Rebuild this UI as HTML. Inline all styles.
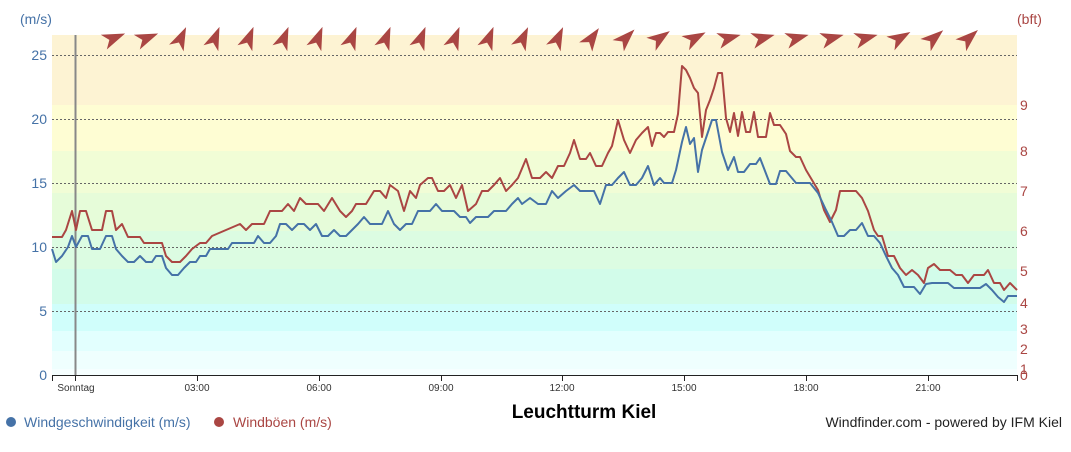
<!DOCTYPE html>
<html><head><meta charset="utf-8"><style>
body{margin:0;background:#fff;font-family:"Liberation Sans",sans-serif}
</style></head><body>
<svg width="1071" height="447" viewBox="0 0 1071 447" xmlns="http://www.w3.org/2000/svg" font-family="Liberation Sans, sans-serif">
<!-- bands -->
<rect x="52" y="35" width="965" height="70" fill="#fdf3d3"/>
<rect x="52" y="105" width="965" height="46" fill="#fefdd3"/>
<rect x="52" y="151" width="965" height="42" fill="#f1fdd6"/>
<rect x="52" y="193" width="965" height="38" fill="#e6fcd9"/>
<rect x="52" y="231" width="965" height="38" fill="#dcfce2"/>
<rect x="52" y="269" width="965" height="35" fill="#d2fcea"/>
<rect x="52" y="304" width="965" height="27" fill="#d0fefb"/>
<rect x="52" y="331" width="965" height="20" fill="#e2fffe"/>
<rect x="52" y="351" width="965" height="18" fill="#effffe"/>
<rect x="52" y="369" width="965" height="6" fill="#f6ffff"/>
<!-- grid -->
<g stroke="#666" stroke-dasharray="2,2" stroke-width="1">
<line x1="52" x2="1017" y1="55.5" y2="55.5"/><line x1="52" x2="1017" y1="119.5" y2="119.5"/>
<line x1="52" x2="1017" y1="183.5" y2="183.5"/><line x1="52" x2="1017" y1="247.5" y2="247.5"/>
<line x1="52" x2="1017" y1="311.5" y2="311.5"/>
</g>
<line x1="75.5" x2="75.5" y1="35" y2="375" stroke="#888" stroke-width="2"/>
<!-- axis -->
<line x1="52" x2="1018" y1="375.5" y2="375.5" stroke="#222"/>
<g stroke="#222"><line x1="52.5" x2="52.5" y1="375" y2="381"/><line x1="75.5" x2="75.5" y1="375" y2="381"/><line x1="197.5" x2="197.5" y1="375" y2="381"/><line x1="319.5" x2="319.5" y1="375" y2="381"/><line x1="441.5" x2="441.5" y1="375" y2="381"/><line x1="562.5" x2="562.5" y1="375" y2="381"/><line x1="684.5" x2="684.5" y1="375" y2="381"/><line x1="806.5" x2="806.5" y1="375" y2="381"/><line x1="928.5" x2="928.5" y1="375" y2="381"/><line x1="1017.5" x2="1017.5" y1="375" y2="381"/></g>
<g font-size="10" fill="#333" text-anchor="middle">
<text x="76" y="391">Sonntag</text><text x="197" y="391">03:00</text><text x="319" y="391">06:00</text><text x="441" y="391">09:00</text><text x="562" y="391">12:00</text><text x="684" y="391">15:00</text><text x="806" y="391">18:00</text><text x="928" y="391">21:00</text>
</g>
<g font-size="14" fill="#4572a7" text-anchor="end">
<text x="47" y="380">0</text><text x="47" y="316">5</text><text x="47" y="252">10</text><text x="47" y="188">15</text><text x="47" y="124">20</text><text x="47" y="60">25</text>
</g>
<text x="20" y="24" font-size="14" fill="#4572a7">(m/s)</text>
<text x="1017" y="24" font-size="14" fill="#aa4643">(bft)</text>
<g font-size="14" fill="#aa4643">
<text x="1020" y="380">0</text><text x="1020" y="374">1</text><text x="1020" y="354">2</text><text x="1020" y="334">3</text><text x="1020" y="308">4</text><text x="1020" y="276">5</text><text x="1020" y="236">6</text><text x="1020" y="196">7</text><text x="1020" y="156">8</text><text x="1020" y="110">9</text>
</g>
<!-- series -->
<polyline fill="none" stroke="#aa4643" stroke-width="2" stroke-linejoin="round" points="52,237 62,237 66,230 72,211 76,230 80,211 86,211 92,230 102,230 106,211 112,211 116,230 122,224 128,237 140,237 144,243 162,243 166,256 172,262 180,262 186,256 192,249 200,243 206,243 212,236 226,230 240,224 246,230 252,224 264,224 270,211 282,211 288,204 294,211 300,198 306,204 318,204 324,211 332,198 340,211 346,217 352,211 356,204 366,204 374,191 380,191 386,198 390,185 398,191 404,211 410,191 416,198 420,185 428,178 432,178 438,191 444,191 450,185 456,198 462,185 468,211 476,204 482,191 488,191 494,185 500,178 506,191 512,185 518,178 526,159 532,178 540,178 546,172 552,178 558,166 564,166 570,153 574,140 580,159 586,159 590,153 596,166 602,166 608,153 612,146 618,120 624,140 630,153 636,140 642,133 648,127 652,146 656,133 660,133 664,137 668,132 674,132 678,114 682,66 686,70 690,78 694,88 698,93 702,137 706,110 710,100 714,88 718,73 722,73 726,118 730,132 734,113 738,136 742,112 746,132 750,132 754,112 758,137 766,137 770,113 774,125 780,125 786,134 790,151 796,157 800,157 806,170 812,180 818,190 824,210 830,222 836,210 840,191 848,191 856,191 862,198 868,211 874,230 878,236 882,236 888,256 894,256 900,268 906,275 912,270 918,275 924,283 928,268 934,264 940,270 950,270 956,275 962,275 968,283 974,275 984,275 988,270 994,283 1000,283 1004,290 1010,283 1017,290"/>
<polyline fill="none" stroke="#4572a7" stroke-width="2" stroke-linejoin="round" points="52,249 56,262 62,256 68,247 72,236 76,247 82,236 88,236 92,249 100,249 106,236 112,236 116,249 122,256 128,262 134,262 140,256 146,262 152,262 156,256 162,256 166,268 172,275 178,275 184,268 190,262 196,262 200,256 206,256 210,249 228,249 232,243 254,243 258,236 264,243 270,243 276,236 280,224 286,224 292,230 298,224 304,224 310,230 316,224 322,236 328,236 334,230 340,236 346,236 352,230 358,224 364,217 370,224 382,224 388,211 394,224 400,230 406,224 412,224 418,211 430,211 436,204 442,211 454,211 460,217 466,217 470,223 476,217 488,217 494,211 506,211 512,204 518,198 522,204 530,198 538,204 546,204 552,191 558,198 566,191 574,185 580,191 594,191 600,204 606,185 612,185 618,178 624,172 630,185 636,185 642,178 648,166 654,185 660,178 664,183 672,183 676,170 682,142 686,127 690,144 694,138 698,172 702,150 706,138 712,120 716,120 722,152 728,170 734,157 738,172 744,172 750,164 756,164 760,158 770,184 776,184 780,171 786,171 796,183 810,183 818,193 826,210 832,222 838,236 844,236 850,230 856,230 862,223 868,236 874,236 880,243 886,256 892,268 898,275 904,287 914,287 920,294 926,284 932,283 948,283 954,288 980,288 986,284 992,290 998,297 1004,302 1008,296 1017,296"/>
<!-- arrows -->
<defs><polygon id="ar" points="0,-12 8,11 0,5 -8,11" fill="#aa4643"/></defs>
<g>
<use href="#ar" transform="translate(114,38) rotate(68)"/>
<use href="#ar" transform="translate(147,38) rotate(68)"/>
<use href="#ar" transform="translate(181,38) rotate(25)"/>
<use href="#ar" transform="translate(215,38) rotate(22)"/>
<use href="#ar" transform="translate(249,38) rotate(22)"/>
<use href="#ar" transform="translate(284,38) rotate(22)"/>
<use href="#ar" transform="translate(318,38) rotate(22)"/>
<use href="#ar" transform="translate(352,38) rotate(22)"/>
<use href="#ar" transform="translate(386,38) rotate(22)"/>
<use href="#ar" transform="translate(421,38) rotate(22)"/>
<use href="#ar" transform="translate(455,38) rotate(22)"/>
<use href="#ar" transform="translate(489,38) rotate(22)"/>
<use href="#ar" transform="translate(523,38) rotate(25)"/>
<use href="#ar" transform="translate(558,38) rotate(25)"/>
<use href="#ar" transform="translate(592,38) rotate(35)"/>
<use href="#ar" transform="translate(626,38) rotate(45)"/>
<use href="#ar" transform="translate(660,38) rotate(55)"/>
<use href="#ar" transform="translate(695,38) rotate(62)"/>
<use href="#ar" transform="translate(729,38) rotate(75)"/>
<use href="#ar" transform="translate(763,38) rotate(75)"/>
<use href="#ar" transform="translate(797,38) rotate(75)"/>
<use href="#ar" transform="translate(832,38) rotate(75)"/>
<use href="#ar" transform="translate(866,38) rotate(75)"/>
<use href="#ar" transform="translate(900,38) rotate(60)"/>
<use href="#ar" transform="translate(934,38) rotate(50)"/>
<use href="#ar" transform="translate(969,38) rotate(48)"/>
</g>
<!-- legend -->
<circle cx="11" cy="422" r="5" fill="#4572a7"/>
<text x="24" y="427" font-size="14" fill="#4572a7">Windgeschwindigkeit (m/s)</text>
<circle cx="219" cy="422" r="5" fill="#aa4643"/>
<text x="233" y="427" font-size="14" fill="#aa4643">Windböen (m/s)</text>
<text x="584" y="418" font-size="19" font-weight="bold" fill="#000" text-anchor="middle">Leuchtturm Kiel</text>
<text x="1062" y="427" font-size="14" fill="#222" text-anchor="end">Windfinder.com - powered by IFM Kiel</text>
</svg>
</body></html>
